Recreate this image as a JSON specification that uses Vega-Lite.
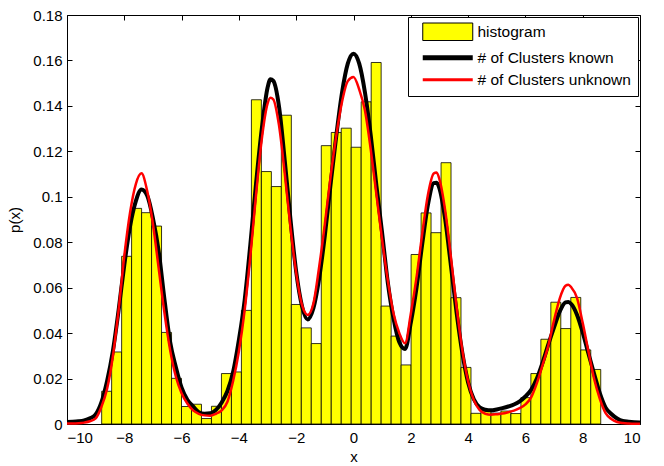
{
  "$schema": "https://vega.github.io/schema/vega-lite/v6.json",
  "width": 573,
  "height": 409,
  "autosize": {"type": "none"},
  "padding": {"left": 67, "top": 15, "right": 24, "bottom": 42},
  "background": "white",
  "config": {
    "font": "Liberation Sans",
    "view": {"stroke": "black", "strokeWidth": 1},
    "axis": {
      "grid": false,
      "domain": false,
      "tickColor": "black",
      "tickSize": -5,
      "tickWidth": 1,
      "labelColor": "black",
      "labelFont": "Liberation Sans",
      "labelFontSize": 15,
      "titleFont": "Liberation Sans",
      "titleFontSize": 15,
      "titleFontWeight": "normal",
      "titleColor": "black"
    },
    "legend": {
      "orient": "top-right",
      "offset": 2,
      "strokeColor": "black",
      "fillColor": "white",
      "padding": 7,
      "rowPadding": 4,
      "labelFont": "Liberation Sans",
      "labelFontSize": 15.5,
      "labelColor": "black",
      "symbolSize": 100,
      "symbolOffset": 0,
      "labelOffset": 47,
      "symbolOpacity": 1
    }
  },
  "datasets": {
    "hist": [
      {"a": -8.790, "b": -8.442, "p": 0.0144},
      {"a": -8.442, "b": -8.093, "p": 0.0317},
      {"a": -8.093, "b": -7.745, "p": 0.0738},
      {"a": -7.745, "b": -7.396, "p": 0.0949},
      {"a": -7.396, "b": -7.048, "p": 0.0930},
      {"a": -7.048, "b": -6.700, "p": 0.0871},
      {"a": -6.700, "b": -6.351, "p": 0.0403},
      {"a": -6.351, "b": -6.003, "p": 0.0201},
      {"a": -6.003, "b": -5.654, "p": 0.0077},
      {"a": -5.654, "b": -5.306, "p": 0.0087},
      {"a": -5.306, "b": -4.958, "p": 0.0024},
      {"a": -4.958, "b": -4.609, "p": 0.0078},
      {"a": -4.609, "b": -4.261, "p": 0.0222},
      {"a": -4.261, "b": -3.912, "p": 0.0229},
      {"a": -3.912, "b": -3.564, "p": 0.0500},
      {"a": -3.564, "b": -3.216, "p": 0.1427},
      {"a": -3.216, "b": -2.867, "p": 0.1111},
      {"a": -2.867, "b": -2.519, "p": 0.1045},
      {"a": -2.519, "b": -2.170, "p": 0.1359},
      {"a": -2.170, "b": -1.822, "p": 0.0526},
      {"a": -1.822, "b": -1.474, "p": 0.0423},
      {"a": -1.474, "b": -1.125, "p": 0.0354},
      {"a": -1.125, "b": -0.777, "p": 0.1225},
      {"a": -0.777, "b": -0.428, "p": 0.1283},
      {"a": -0.428, "b": -0.080, "p": 0.1302},
      {"a": -0.080, "b": 0.268, "p": 0.1218},
      {"a": 0.268, "b": 0.617, "p": 0.1418},
      {"a": 0.617, "b": 0.965, "p": 0.1591},
      {"a": 0.965, "b": 1.314, "p": 0.0519},
      {"a": 1.314, "b": 1.662, "p": 0.0387},
      {"a": 1.662, "b": 2.010, "p": 0.0260},
      {"a": 2.010, "b": 2.359, "p": 0.0746},
      {"a": 2.359, "b": 2.707, "p": 0.0929},
      {"a": 2.707, "b": 3.056, "p": 0.0842},
      {"a": 3.056, "b": 3.404, "p": 0.1150},
      {"a": 3.404, "b": 3.752, "p": 0.0556},
      {"a": 3.752, "b": 4.101, "p": 0.0249},
      {"a": 4.101, "b": 4.449, "p": 0.0047},
      {"a": 4.449, "b": 4.798, "p": 0.0057},
      {"a": 4.798, "b": 5.146, "p": 0.0048},
      {"a": 5.146, "b": 5.494, "p": 0.0057},
      {"a": 5.494, "b": 5.843, "p": 0.0046},
      {"a": 5.843, "b": 6.191, "p": 0.0116},
      {"a": 6.191, "b": 6.540, "p": 0.0222},
      {"a": 6.540, "b": 6.888, "p": 0.0373},
      {"a": 6.888, "b": 7.236, "p": 0.0536},
      {"a": 7.236, "b": 7.585, "p": 0.0420},
      {"a": 7.585, "b": 7.933, "p": 0.0557},
      {"a": 7.933, "b": 8.282, "p": 0.0326},
      {"a": 8.282, "b": 8.630, "p": 0.0240}
    ],
    "known": [
      {"x": -10, "p": 0.0009}, {"x": -9.8, "p": 0.0010}, {"x": -9.6, "p": 0.0012}, {"x": -9.4, "p": 0.0016},
      {"x": -9.2, "p": 0.0025}, {"x": -9.0, "p": 0.0042}, {"x": -8.8, "p": 0.0095}, {"x": -8.6, "p": 0.019},
      {"x": -8.4, "p": 0.032}, {"x": -8.2, "p": 0.050}, {"x": -8.0, "p": 0.070}, {"x": -7.8, "p": 0.087},
      {"x": -7.6, "p": 0.098}, {"x": -7.4, "p": 0.1032}, {"x": -7.2, "p": 0.1005}, {"x": -7.0, "p": 0.0905},
      {"x": -6.8, "p": 0.076}, {"x": -6.6, "p": 0.055}, {"x": -6.4, "p": 0.036}, {"x": -6.2, "p": 0.025},
      {"x": -6.0, "p": 0.016}, {"x": -5.8, "p": 0.0107}, {"x": -5.6, "p": 0.0078}, {"x": -5.4, "p": 0.0052},
      {"x": -5.2, "p": 0.0045}, {"x": -5.0, "p": 0.0047}, {"x": -4.8, "p": 0.0062}, {"x": -4.6, "p": 0.0095},
      {"x": -4.4, "p": 0.0145}, {"x": -4.2, "p": 0.023}, {"x": -4.0, "p": 0.037}, {"x": -3.8, "p": 0.0544},
      {"x": -3.6, "p": 0.079}, {"x": -3.4, "p": 0.106}, {"x": -3.2, "p": 0.130}, {"x": -3.0, "p": 0.148},
      {"x": -2.9, "p": 0.1517}, {"x": -2.8, "p": 0.151}, {"x": -2.6, "p": 0.1397}, {"x": -2.4, "p": 0.116},
      {"x": -2.2, "p": 0.090}, {"x": -2.0, "p": 0.067}, {"x": -1.8, "p": 0.052}, {"x": -1.6, "p": 0.046},
      {"x": -1.4, "p": 0.051}, {"x": -1.2, "p": 0.064}, {"x": -1.0, "p": 0.083}, {"x": -0.8, "p": 0.1055},
      {"x": -0.6, "p": 0.127}, {"x": -0.4, "p": 0.1459}, {"x": -0.2, "p": 0.1586}, {"x": 0, "p": 0.163},
      {"x": 0.2, "p": 0.1586}, {"x": 0.4, "p": 0.1459}, {"x": 0.6, "p": 0.1272}, {"x": 0.8, "p": 0.1049},
      {"x": 1.0, "p": 0.084}, {"x": 1.2, "p": 0.062}, {"x": 1.4, "p": 0.0463}, {"x": 1.6, "p": 0.036},
      {"x": 1.8, "p": 0.033}, {"x": 2.0, "p": 0.0446}, {"x": 2.2, "p": 0.060}, {"x": 2.4, "p": 0.0793},
      {"x": 2.6, "p": 0.0966}, {"x": 2.8, "p": 0.106}, {"x": 2.9, "p": 0.1062}, {"x": 3.0, "p": 0.1037},
      {"x": 3.2, "p": 0.0901}, {"x": 3.4, "p": 0.0698}, {"x": 3.6, "p": 0.0489}, {"x": 3.8, "p": 0.0312},
      {"x": 4.0, "p": 0.0183}, {"x": 4.2, "p": 0.0109}, {"x": 4.4, "p": 0.0074}, {"x": 4.6, "p": 0.0063},
      {"x": 4.8, "p": 0.0060}, {"x": 5.0, "p": 0.0064}, {"x": 5.2, "p": 0.0070}, {"x": 5.4, "p": 0.0077},
      {"x": 5.6, "p": 0.0086}, {"x": 5.8, "p": 0.0100}, {"x": 6.0, "p": 0.0121}, {"x": 6.2, "p": 0.0150},
      {"x": 6.4, "p": 0.0200}, {"x": 6.6, "p": 0.0270}, {"x": 6.8, "p": 0.0350}, {"x": 7.0, "p": 0.0425},
      {"x": 7.2, "p": 0.0495}, {"x": 7.4, "p": 0.0535}, {"x": 7.5, "p": 0.0537}, {"x": 7.6, "p": 0.0528},
      {"x": 7.8, "p": 0.0481}, {"x": 8.0, "p": 0.0403}, {"x": 8.2, "p": 0.031}, {"x": 8.4, "p": 0.022},
      {"x": 8.6, "p": 0.0135}, {"x": 8.8, "p": 0.0072}, {"x": 9.0, "p": 0.0044}, {"x": 9.2, "p": 0.0024},
      {"x": 9.4, "p": 0.0013}, {"x": 9.6, "p": 0.0010}, {"x": 9.8, "p": 0.0008}, {"x": 10, "p": 0.0007}
    ],
    "unknown": [
      {"x": -10, "p": 0.0002}, {"x": -9.8, "p": 0.0002}, {"x": -9.6, "p": 0.0003}, {"x": -9.4, "p": 0.0006},
      {"x": -9.2, "p": 0.0012}, {"x": -9.0, "p": 0.0025}, {"x": -8.8, "p": 0.0075}, {"x": -8.6, "p": 0.0155},
      {"x": -8.4, "p": 0.0297}, {"x": -8.2, "p": 0.050}, {"x": -8.0, "p": 0.074}, {"x": -7.8, "p": 0.093},
      {"x": -7.6, "p": 0.1055}, {"x": -7.4, "p": 0.1103}, {"x": -7.2, "p": 0.1025}, {"x": -7.0, "p": 0.0880},
      {"x": -6.8, "p": 0.0685}, {"x": -6.6, "p": 0.0490}, {"x": -6.4, "p": 0.0325}, {"x": -6.2, "p": 0.0208},
      {"x": -6.0, "p": 0.0135}, {"x": -5.8, "p": 0.0090}, {"x": -5.6, "p": 0.0060}, {"x": -5.4, "p": 0.0045},
      {"x": -5.2, "p": 0.0038}, {"x": -5.0, "p": 0.0036}, {"x": -4.8, "p": 0.0045}, {"x": -4.6, "p": 0.0060},
      {"x": -4.4, "p": 0.0098}, {"x": -4.2, "p": 0.019}, {"x": -4.0, "p": 0.032}, {"x": -3.8, "p": 0.050},
      {"x": -3.6, "p": 0.0739}, {"x": -3.4, "p": 0.1012}, {"x": -3.2, "p": 0.1255}, {"x": -3.0, "p": 0.141},
      {"x": -2.9, "p": 0.1436}, {"x": -2.8, "p": 0.1429}, {"x": -2.6, "p": 0.1314}, {"x": -2.4, "p": 0.1103},
      {"x": -2.2, "p": 0.0865}, {"x": -2.0, "p": 0.0664}, {"x": -1.8, "p": 0.0525}, {"x": -1.6, "p": 0.048},
      {"x": -1.4, "p": 0.053}, {"x": -1.2, "p": 0.069}, {"x": -1.0, "p": 0.088}, {"x": -0.8, "p": 0.1088},
      {"x": -0.6, "p": 0.127}, {"x": -0.4, "p": 0.1418}, {"x": -0.2, "p": 0.1509}, {"x": 0, "p": 0.1527},
      {"x": 0.2, "p": 0.1472}, {"x": 0.4, "p": 0.138}, {"x": 0.6, "p": 0.121}, {"x": 0.8, "p": 0.101},
      {"x": 1.0, "p": 0.081}, {"x": 1.2, "p": 0.063}, {"x": 1.4, "p": 0.0485}, {"x": 1.6, "p": 0.040},
      {"x": 1.8, "p": 0.0355}, {"x": 2.0, "p": 0.0485}, {"x": 2.2, "p": 0.0645}, {"x": 2.4, "p": 0.0838},
      {"x": 2.6, "p": 0.1010}, {"x": 2.8, "p": 0.1102}, {"x": 2.9, "p": 0.1107}, {"x": 3.0, "p": 0.1077},
      {"x": 3.2, "p": 0.094}, {"x": 3.4, "p": 0.0735}, {"x": 3.6, "p": 0.0513}, {"x": 3.8, "p": 0.0324},
      {"x": 4.0, "p": 0.0188}, {"x": 4.2, "p": 0.0105}, {"x": 4.4, "p": 0.0062}, {"x": 4.6, "p": 0.0045},
      {"x": 4.8, "p": 0.0041}, {"x": 5.0, "p": 0.0043}, {"x": 5.2, "p": 0.0046}, {"x": 5.4, "p": 0.0052},
      {"x": 5.6, "p": 0.0059}, {"x": 5.8, "p": 0.0070}, {"x": 6.0, "p": 0.0086}, {"x": 6.2, "p": 0.0117},
      {"x": 6.4, "p": 0.018}, {"x": 6.6, "p": 0.026}, {"x": 6.8, "p": 0.0345}, {"x": 7.0, "p": 0.0456},
      {"x": 7.2, "p": 0.0553}, {"x": 7.4, "p": 0.0608}, {"x": 7.5, "p": 0.0613}, {"x": 7.6, "p": 0.0602},
      {"x": 7.8, "p": 0.0555}, {"x": 8.0, "p": 0.0445}, {"x": 8.2, "p": 0.032}, {"x": 8.4, "p": 0.0198},
      {"x": 8.6, "p": 0.011}, {"x": 8.8, "p": 0.0048}, {"x": 9.0, "p": 0.0022}, {"x": 9.2, "p": 0.0009},
      {"x": 9.4, "p": 0.0004}, {"x": 9.6, "p": 0.0002}, {"x": 9.8, "p": 0.0001}, {"x": 10, "p": 0.0001}
    ]
  },
  "layer": [
    {
      "data": {"name": "hist"},
      "mark": {"type": "rect", "stroke": "black", "strokeWidth": 0.8},
      "encoding": {
        "x": {
          "field": "a", "type": "quantitative",
          "scale": {"domain": [-10, 10], "nice": false, "zero": false},
          "axis": {"orient": "bottom", "values": [-10, -8, -6, -4, -2, 0, 2, 4, 6, 8, 10], "title": "x", "labelPadding": 11, "titlePadding": 4}
        },
        "x2": {"field": "b"},
        "y": {
          "field": "p", "type": "quantitative",
          "scale": {"domain": [0, 0.18], "nice": false},
          "axis": {"orient": "left", "values": [0, 0.02, 0.04, 0.06, 0.08, 0.1, 0.12, 0.14, 0.16, 0.18], "format": "~g", "title": "p(x)", "labelPadding": 10, "titlePadding": 10}
        },
        "y2": {"datum": 0},
        "fill": {
          "datum": "histogram",
          "scale": {"domain": ["histogram", "# of Clusters known", "# of Clusters unknown"], "range": ["#ffff00", "#000000", "#ff0000"]},
          "legend": {"title": null}
        }
      }
    },
    {
      "data": {"name": "known"},
      "mark": {"type": "line", "strokeWidth": 4, "interpolate": "monotone"},
      "encoding": {
        "x": {"field": "x", "type": "quantitative", "axis": {"orient": "top", "values": [-10, -8, -6, -4, -2, 0, 2, 4, 6, 8, 10], "labels": false, "title": null}},
        "y": {"field": "p", "type": "quantitative", "axis": {"orient": "right", "values": [0, 0.02, 0.04, 0.06, 0.08, 0.1, 0.12, 0.14, 0.16, 0.18], "labels": false, "title": null}},
        "stroke": {
          "datum": "# of Clusters known",
          "scale": {"domain": ["histogram", "# of Clusters known", "# of Clusters unknown"], "range": ["#000000", "#000000", "#ff0000"]},
          "legend": {"title": null}
        }
      }
    },
    {
      "data": {"name": "unknown"},
      "mark": {"type": "line", "strokeWidth": 2.5, "interpolate": "monotone"},
      "encoding": {
        "x": {"field": "x", "type": "quantitative", "axis": null},
        "y": {"field": "p", "type": "quantitative", "axis": null},
        "stroke": {"datum": "# of Clusters unknown", "legend": {"title": null}}
      }
    },
    {
      "data": {"name": "hist"},
      "transform": [{"filter": "false"}],
      "mark": {"type": "point", "opacity": 1},
      "encoding": {
        "shape": {
          "datum": "histogram",
          "scale": {"domain": ["histogram", "# of Clusters known", "# of Clusters unknown"], "range": ["M0,-1.75H10V1.75H0Z", "M0,0H10", "M0,0H10"]},
          "legend": {"title": null}
        },
        "strokeWidth": {
          "datum": "histogram",
          "scale": {"type": "ordinal", "domain": ["histogram", "# of Clusters known", "# of Clusters unknown"], "range": [1, 5, 3]},
          "legend": {"title": null}
        }
      }
    }
  ],
  "resolve": {"axis": {"x": "independent", "y": "independent"}}
}
